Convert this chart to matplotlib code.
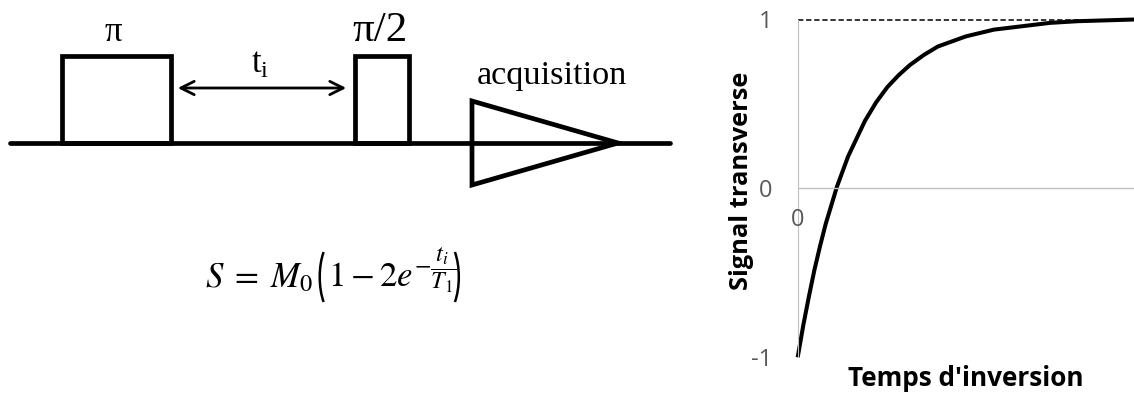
import matplotlib.pyplot as plt
from matplotlib.patches import Rectangle, Polygon, Arc

plt.rcParams["mathtext.fontset"] = "stix"

# courbe de recuperation, temps en unites de T1
temps = [0, 0.1, 0.2, 0.3, 0.4, 0.5, 0.6, 0.7, 0.8, 0.9, 1.0, 1.2, 1.4, 1.6,
         1.8, 2.0, 2.25, 2.5, 2.75, 3.0, 3.5, 4.0, 4.5, 5.0, 5.5, 6.0]
signal = [-1.0, -0.81, -0.64, -0.48, -0.34, -0.21, -0.10, 0.01, 0.10, 0.19,
          0.26, 0.40, 0.51, 0.60, 0.67, 0.73, 0.79, 0.84, 0.87, 0.90, 0.94,
          0.96, 0.98, 0.99, 0.995, 1.0]
yticks = [-1, 0, 1]
ytick_labels = ["-1", "0", "1"]

# schema de la sequence (pixels)
baseline = ([10, 670], [143, 143])
pulses = [(62, 171, "π", 113), (355, 409, "π/2", 380)]
pulse_top = 56
acq_triangle = [(472, 101), (472, 185), (618, 143)]

fig = plt.figure(figsize=(11.34, 3.97), dpi=100)


def fit(txt, size, vertical=False):
    # ajuste la taille de police pour que le texte occupe `size` pixels
    fig.canvas.draw()
    bb = txt.get_window_extent()
    cur = bb.height if vertical else bb.width
    txt.set_fontsize(txt.get_fontsize() * size / cur)


# --- schema a gauche ---
ax0 = fig.add_axes([0, 0, 1, 1])
ax0.set_xlim(0, 1134)
ax0.set_ylim(397, 0)
ax0.axis("off")
ax0.plot(*baseline, color="black", lw=3.4, solid_capstyle="round")
for x0, x1, lab, xl in pulses:
    ax0.add_patch(Rectangle((x0, pulse_top), x1 - x0, 143 - pulse_top,
                            fill=False, lw=3.4, ec="black"))
    t = ax0.text(xl, 41, lab, family="Liberation Serif", fontsize=25,
                 ha="center", va="baseline")
    if lab == "π/2":
        fit(t, 55)
ax0.annotate("", xy=(175, 88), xytext=(349, 88),
             arrowprops=dict(arrowstyle="<->", lw=2, color="black",
                             mutation_scale=24))
ax0.text(260, 73, r"$\mathregular{t_i}$", family="Liberation Serif", fontsize=25,
         ha="center", va="baseline")
ax0.add_patch(Polygon(acq_triangle, closed=True, fill=False, lw=3.4, ec="black"))
t = ax0.text(552, 84, "acquisition", family="Liberation Serif", fontsize=22,
             ha="center", va="baseline")
fit(t, 150)

# formule, en morceaux pour avoir de grandes parentheses
t1 = ax0.text(205, 287, r"$S\;=\;M_0$", fontsize=25, ha="left", va="baseline")
fig.canvas.draw()
xp = t1.get_window_extent().x1 + 7
ax0.add_patch(Arc((xp + 14, 277), 28, 72, theta1=112, theta2=248,
                  lw=1.8, color="black"))
t2 = ax0.text(xp + 8, 287, r"$1 - 2e^{-\dfrac{t_i}{T_1}}$", fontsize=25,
              ha="left", va="baseline")
fig.canvas.draw()
xr = t2.get_window_extent().x1 + 3
ax0.add_patch(Arc((xr - 14, 277), 28, 72, theta1=-68, theta2=68,
                  lw=1.8, color="black"))

# --- courbe a droite ---
ax = fig.add_axes([797.7 / 1134, 1 - 357.3 / 397, 1 - 797.7 / 1134,
                   (357.3 - 19.5) / 397])
ax.plot(temps, signal, color="black", lw=2.9, clip_on=False,
        solid_capstyle="butt", solid_joinstyle="round")
ax.axhline(1, color="black", lw=1.1, ls=(0, (3.5, 1.8)), clip_on=False)
ax.axhline(0, color="#BFBFBF", lw=1)
ax.set_xlim(0, 6.0)
ax.set_ylim(-1, 1)
for s in ["top", "right", "bottom"]:
    ax.spines[s].set_visible(False)
ax.spines["left"].set_color("#BFBFBF")
ax.set_yticks(yticks)
ax.set_yticklabels(ytick_labels, color="#595959", fontsize=17, family="Open Sans")
ax.tick_params(axis="y", length=0, pad=18.5)
ax.set_xticks([])
ax.text(0, -0.19, "0", color="#595959", fontsize=17, family="Open Sans",
        ha="center", va="center")

t = ax0.text(741.5, 181, "Signal transverse", family="Open Sans",
             fontweight="bold", fontsize=18, rotation=90,
             ha="center", va="center")
fit(t, 218, vertical=True)
t = ax0.text(965.5, 379, "Temps d'inversion", family="Open Sans",
             fontweight="bold", fontsize=19, ha="center", va="center")
fit(t, 235)

fig.savefig("out.png", dpi=100)
